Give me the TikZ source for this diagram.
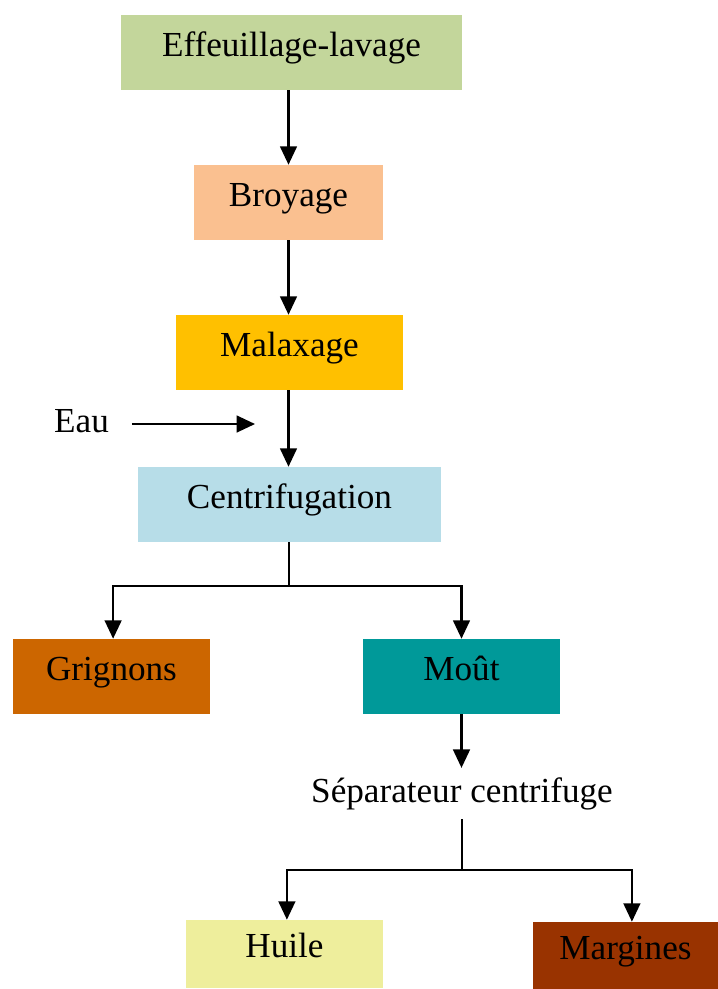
\documentclass[tikz,border=0pt]{standalone}
\usepackage{fontspec}
\setmainfont{Liberation Serif}
\usetikzlibrary{arrows.meta,positioning,calc}
\definecolor{effgreen}{HTML}{C3D69B}
\definecolor{broypeach}{HTML}{FAC090}
\definecolor{malaxgold}{HTML}{FFC000}
\definecolor{centriblue}{HTML}{B7DDE8}
\definecolor{grigorange}{HTML}{CC6600}
\definecolor{mouteal}{HTML}{009999}
\definecolor{huileyellow}{HTML}{EEEE9C}
\definecolor{margbrown}{HTML}{993300}

\begin{document}
\begin{tikzpicture}[
    x=0.025cm, y=-0.025cm,
    font=\fontsize{25}{30}\selectfont,
    box/.style={rectangle, minimum height=1.875cm, text height=0.7em, text depth=0.15em, inner sep=0pt},
    arrow/.style={-{Triangle[length=4.6mm, width=4.2mm]}, line width=1.5pt},
    stub/.style={line width=0.8pt}
]
\useasboundingbox (0,0) rectangle (718,989);

% Main chain
\node[box, fill=effgreen, minimum width=8.525cm] (eff) at (291.5, 52.5) {Effeuillage-lavage};
\node[box, fill=broypeach, minimum width=4.725cm] (broy) at (288.5, 202.5) {Broyage};
\node[box, fill=malaxgold, minimum width=5.675cm] (malax) at (289.5, 352.5) {Malaxage};
\node[box, fill=centriblue, minimum width=7.575cm] (centri) at (289.5, 504.5) {Centrifugation};

\draw[arrow] (eff.south -| broy.north) -- (broy.north);
\draw[arrow] (broy.south -| broy.north) -- (broy.south |- malax.north);
\draw[arrow] (malax.south -| broy.north) -- (centri.north -| broy.north);

% Water input
\node (eau) at (81.5, 421) {Eau};
\coordinate (eauend) at (255, 424);
\draw[arrow] ([xshift=0.45cm]eau.east |- eauend) -- (eauend);

% First split
\node[box, fill=grigorange, minimum width=4.925cm] (grig) at (111.5, 676.5) {Grignons};
\node[box, fill=mouteal, minimum width=4.925cm] (mout) at (461.5, 676.5) {Moût};
\coordinate (split1) at (289, 586);
\draw[stub] (centri.south -| split1) -- (split1);
\draw[arrow] (split1) -| ([xshift=0.04cm]grig.north);
\draw[arrow] (split1) -| (mout);

% Separator
\node (sep) at (462, 794) {Séparateur centrifuge};
\draw[arrow] (mout.south) -- ([yshift=0.125cm]mout.south |- sep.north);

% Second split
\node[box, fill=huileyellow, minimum width=4.925cm, minimum height=1.7cm] (huile) at (284.5, 954) {Huile};
\node[box, fill=margbrown, minimum width=4.625cm, minimum height=1.675cm] (marg) at (625.5, 955.5) {Margines};
\coordinate (split2) at (462, 870);
\draw[stub] ([yshift=-0.1cm]sep.south) -- (split2);
\draw[arrow] (split2) -| ([xshift=0.06cm]huile.north);
\draw[arrow] (split2) -| ([xshift=0.16cm]marg.north);

\end{tikzpicture}
\end{document}
